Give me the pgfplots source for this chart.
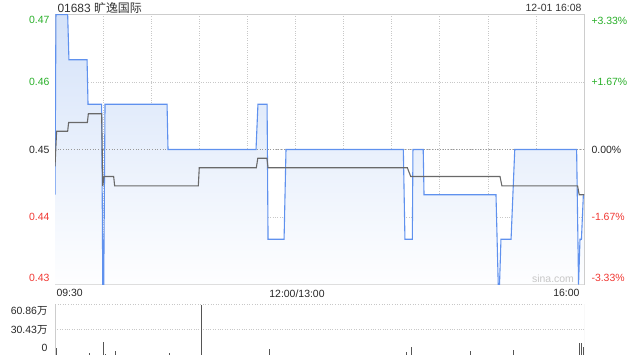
\documentclass[border=0pt]{standalone}
\usepackage{fontspec}
\setmainfont{Liberation Sans}
\newfontfamily\cjk{Noto Sans CJK SC}
\usepackage{pgfplots}
\pgfplotsset{compat=1.18}
\definecolor{cgreen}{RGB}{40,175,40}
\definecolor{cred}{RGB}{240,55,50}
\definecolor{cblue}{RGB}{95,145,238}
\definecolor{cfill}{RGB}{212,226,249}
\definecolor{cgrid}{RGB}{200,200,200}
\definecolor{cborder}{RGB}{205,205,205}
\definecolor{cavg}{RGB}{105,105,105}
\definecolor{cvol}{RGB}{85,85,85}
\begin{document}
\begin{tikzpicture}[font=\fontsize{10.5}{12}\selectfont]
\path[use as bounding box] (0,0) rectangle (640bp,360bp);
% ---------------- price panel ----------------
\begin{axis}[at={(55bp,75.5bp)}, anchor=south west, scale only axis,
  width=529bp, height=270bp,
  xmin=0, xmax=330, ymin=0.43, ymax=0.47,
  xtick={0,30,60,90,120,150,180,210,240,270,300,330},
  ytick={0.43,0.44,0.45,0.46,0.47},
  xticklabels={}, yticklabels={},
  tick style={draw=none},
  grid=major, grid style={cgrid, dotted, line width=0.6bp},
  axis line style={cborder, line width=0.8bp}]
% filled area under price
\addplot[draw=none, top color=cfill, bottom color=white!97!cfill] coordinates {
 (0,0.43) (0,0.4433) (0.6,0.47) (7.9,0.47) (8.7,0.4633) (20,0.4633) (20.6,0.4567)
 (29.1,0.4567) (29.8,0.43) (30.4,0.43) (31.2,0.4567) (69.9,0.4567) (70.5,0.45)
 (125.4,0.45) (126.6,0.4567) (132.3,0.4567) (132.9,0.4367) (142.9,0.4367) (144.1,0.45)
 (217.3,0.45) (218.3,0.4367) (222.9,0.4367) (223.3,0.45) (229.7,0.45) (230.2,0.4433)
 (275.1,0.4433) (276.5,0.43) (277.3,0.43) (278.2,0.4367) (284.5,0.4367) (286.8,0.45)
 (325.4,0.45) (326.6,0.43) (327.5,0.4367) (328.4,0.4367) (329.6,0.4433) (330,0.4433) (330,0.43)
};
\addplot[draw=gray!80, dotted, line width=0.7bp] coordinates {(0,0.45) (330,0.45)};
% price line
\addplot[cblue, line width=1.1bp] coordinates {
 (0,0.4433) (0.6,0.47) (7.9,0.47) (8.7,0.4633) (20,0.4633) (20.6,0.4567)
 (29.1,0.4567) (29.8,0.43) (30.4,0.43) (31.2,0.4567) (69.9,0.4567) (70.5,0.45)
 (125.4,0.45) (126.6,0.4567) (132.3,0.4567) (132.9,0.4367) (142.9,0.4367) (144.1,0.45)
 (217.3,0.45) (218.3,0.4367) (222.9,0.4367) (223.3,0.45) (229.7,0.45) (230.2,0.4433)
 (275.1,0.4433) (276.5,0.43) (277.3,0.43) (278.2,0.4367) (284.5,0.4367) (286.8,0.45)
 (325.4,0.45) (326.6,0.43) (327.5,0.4367) (328.4,0.4367) (329.6,0.4433) (330,0.4433)
};
% average line
\addplot[cavg, line width=1.1bp] coordinates {
 (0,0.4475) (1.0,0.4527) (7.9,0.4527) (8.5,0.4540) (20.2,0.4540) (20.8,0.4553)
 (29.1,0.4553) (29.8,0.4446) (30.6,0.4460) (36.6,0.4460) (37.2,0.4446) (89.4,0.4446)
 (90,0.4473) (125.6,0.4473) (126.5,0.4487) (132.2,0.4487) (132.9,0.4473) (219.8,0.4473)
 (221.9,0.4460) (277.6,0.4460) (278.8,0.4446) (326,0.4446) (327,0.4433) (330,0.4433)
};
\end{axis}
% ---------------- volume panel ----------------
\begin{axis}[at={(55bp,5bp)}, anchor=south west, scale only axis,
  width=529bp, height=50.5bp,
  xmin=0, xmax=330, ymin=0, ymax=60.86,
  xtick=\empty, ytick={30.43}, yticklabels={},
  tick style={draw=none},
  ymajorgrids, grid style={cgrid, dotted, line width=0.6bp},
  axis line style={draw=none}]
\addplot[ycomb, cvol, line width=1bp] coordinates {
 (1.2,8.4) (21.8,2.4) (30.1,16) (31.2,1.5) (38,4.8) (71.7,2.4) (91.3,60.86)
 (134.1,7.2) (219.4,3.6) (222.5,9.6) (258.9,4.8) (286.3,6) (327,14.5) (328.6,14.5) (329.6,9.6)
};
\draw[cborder, line width=0.8bp] (rel axis cs:0,0) -- (rel axis cs:0,1);
\draw[cborder, line width=0.8bp] (rel axis cs:1,0) -- (rel axis cs:1,1);
\draw[cgrid, dotted, line width=0.6bp] (rel axis cs:0,1) -- (rel axis cs:1,1);
\draw[gray, dotted, line width=0.8bp] (rel axis cs:0,0) -- (rel axis cs:1,0);
\end{axis}
% ---------------- labels ----------------
\node[anchor=west, font=\fontsize{12}{14}\selectfont, text=black!80] at (54bp,352bp) {01683 {\cjk 旷逸国际}};
\node[anchor=east, text=black!80] at (585bp,352bp) {12-01 16:08};
% left price labels
\node[anchor=east, text=cgreen] at (53bp,340bp) {0.47};
\node[anchor=east, text=cgreen] at (53bp,277.8bp) {0.46};
\node[anchor=east, text=black!85] at (53bp,210.3bp) {0.45};
\node[anchor=east, text=cred] at (53bp,142.8bp) {0.44};
\node[anchor=east, text=cred] at (53bp,82.3bp) {0.43};
% right percentage labels
\node[anchor=west, text=cgreen] at (588bp,339bp) {+3.33\%};
\node[anchor=west, text=cgreen] at (588bp,277.8bp) {+1.67\%};
\node[anchor=west, text=black!85] at (588bp,210.3bp) {0.00\%};
\node[anchor=west, text=cred] at (588bp,142.8bp) {-1.67\%};
\node[anchor=west, text=cred] at (588bp,82.3bp) {-3.33\%};
% time labels
\node[anchor=west, text=black!85] at (53bp,66.7bp) {09:30};
\node[text=black!85] at (297bp,66.7bp) {12:00/13:00};
\node[anchor=east, text=black!85] at (583bp,66.7bp) {16:00};
% watermark
\node[text=black!22] at (553bp,81bp) {sina.com};
% volume labels
\node[anchor=east, text=black!85] at (51bp,49bp) {60.86{\cjk 万}};
\node[anchor=east, text=black!85] at (51bp,30.5bp) {30.43{\cjk 万}};
\node[anchor=east, text=black!85] at (51bp,12.3bp) {0};
\end{tikzpicture}
\end{document}
